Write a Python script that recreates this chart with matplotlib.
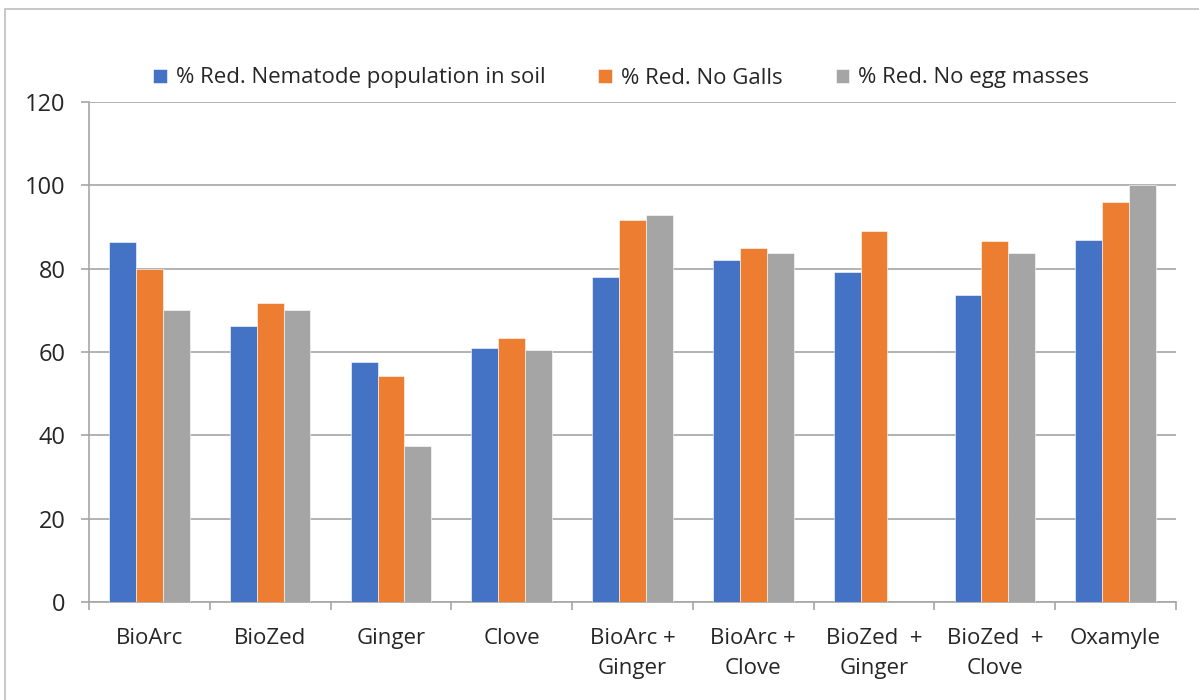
import matplotlib
matplotlib.use("Agg")
import matplotlib.pyplot as plt
import numpy as np
from matplotlib.patches import Rectangle

categories = ["BioArc", "BioZed", "Ginger", "Clove", "BioArc +\nGinger",
              "BioArc +\nClove", "BioZed  +\nGinger", "BioZed  +\nClove", "Oxamyle"]
series_names = ["% Red. Nematode population in soil", "% Red. No Galls",
                "% Red. No egg masses"]
nematode = [86.3, 66.2, 57.6, 61.0, 77.9, 82.0, 79.2, 73.6, 86.8]
galls = [80.0, 71.8, 54.2, 63.4, 91.8, 85.0, 89.0, 86.6, 96.1]
egg_masses = [70.0, 70.0, 37.4, 60.4, 93.0, 83.8, 0.0, 83.8, 100.0]
colors = ["#4472C4", "#ED7D31", "#A5A5A5"]

plt.rcParams["font.family"] = ["Open Sans", "DejaVu Sans"]

fig = plt.figure(figsize=(11.99, 7.0), dpi=100)
ax = fig.add_axes([89 / 1199, 1 - 602 / 700, (1176 - 89) / 1199, 500 / 700])

# outer chart border (cropped on right and bottom in the reference)
fig.patches.append(Rectangle((5 / 1199, -0.1), 1.2, 1 - 9 / 700 + 0.1,
                             transform=fig.transFigure, fill=False,
                             edgecolor="#BFBFBF", lw=1.2))

x = np.arange(len(categories))
width = 1 / 4.5
for i, (vals, name) in enumerate(zip([nematode, galls, egg_masses], series_names)):
    ax.bar(x + (i - 1) * width, vals, width, color=colors[i], label=name,
           edgecolor="white", linewidth=0.4, zorder=3)

ax.set_xlim(-0.5, len(categories) - 0.5)
ax.set_ylim(0, 120)
ax.set_yticks(range(0, 121, 20))
ax.grid(axis="y", color="#A6A6A6", lw=1.2, zorder=0)
for s in ["top", "right"]:
    ax.spines[s].set_visible(False)
ax.spines["left"].set_color("#A6A6A6")
ax.spines["bottom"].set_color("#A6A6A6")
ax.spines["left"].set_linewidth(1.2)
ax.spines["bottom"].set_linewidth(1.2)

ax.set_xticks(x)
ax.set_xticklabels(categories, fontsize=16, color="#262626", linespacing=1.55)
ax.set_xticks(np.arange(len(categories) + 1) - 0.5, minor=True)
ax.tick_params(axis="x", which="major", length=0, pad=19)
ax.tick_params(axis="x", which="minor", length=6, color="#A6A6A6", width=1.2)
ax.tick_params(axis="y", length=6, color="#A6A6A6", width=1.2, labelsize=17,
               labelcolor="#262626", pad=11)

fig.legend(loc="center", bbox_to_anchor=(0.518, 1 - 78 / 700), ncol=3,
           frameon=False, fontsize=16, handlelength=0.6, handleheight=0.6,
           handletextpad=0.4, columnspacing=2.4, labelcolor="#262626")

fig.savefig("out.png", dpi=100)
